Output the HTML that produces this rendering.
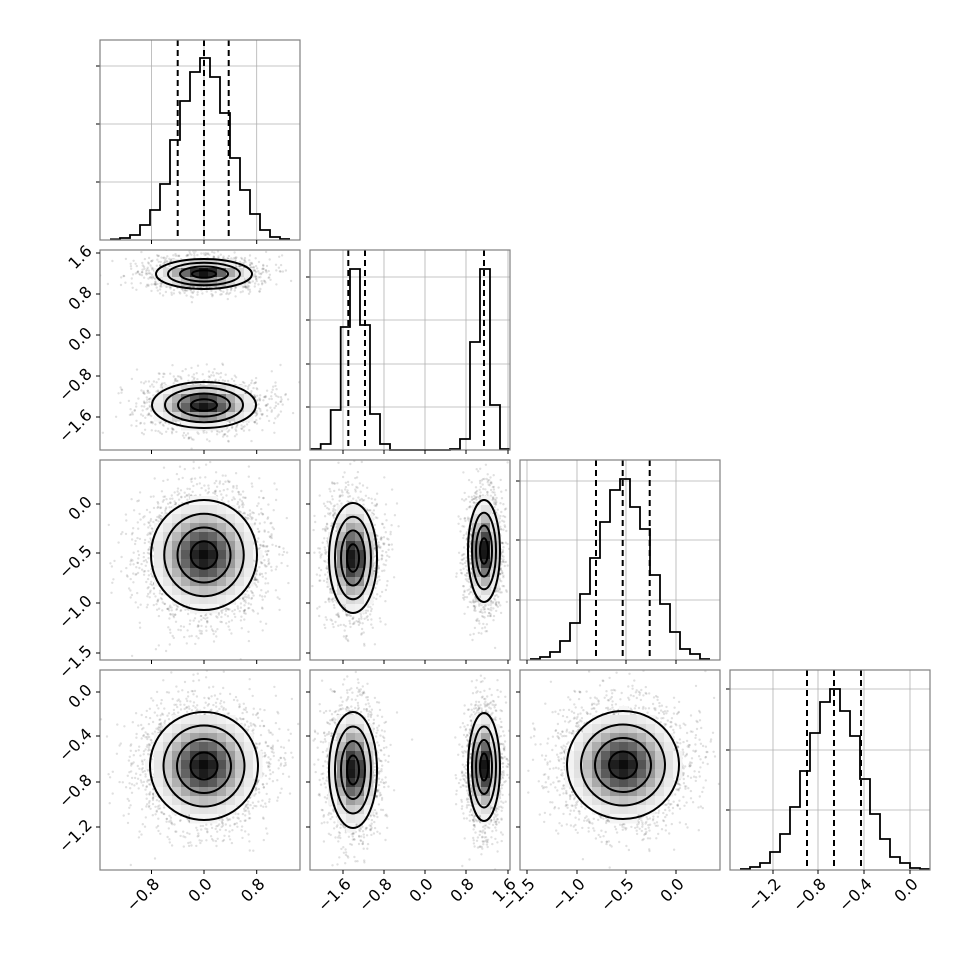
<!DOCTYPE html>
<html><head><meta charset="utf-8"><style>
html,body{margin:0;padding:0;background:#fff;}
svg text{font-family:"DejaVu Sans","Liberation Sans",sans-serif;font-size:16px;fill:#000;}
</style></head><body>
<svg id="s" width="970" height="970" xmlns="http://www.w3.org/2000/svg">
<rect width="970" height="970" fill="#fff"/>
<defs>
<clipPath id="c10"><rect x="100" y="250" width="200" height="200"/></clipPath>
<clipPath id="c20"><rect x="100" y="460" width="200" height="200"/></clipPath>
<clipPath id="c21"><rect x="310" y="460" width="200" height="200"/></clipPath>
<clipPath id="c30"><rect x="100" y="670" width="200" height="200"/></clipPath>
<clipPath id="c31"><rect x="310" y="670" width="200" height="200"/></clipPath>
<clipPath id="c32"><rect x="520" y="670" width="200" height="200"/></clipPath>
</defs>
<g id="g"></g>
</svg>
<script>
var NS="http://www.w3.org/2000/svg",G=document.getElementById('g');
function el(t,a,p){var e=document.createElementNS(NS,t);for(var k in a)e.setAttribute(k,a[k]);(p||G).appendChild(e);return e;}
var seed=12345;function rnd(){seed=(seed*1103515245+12345)%2147483648;return seed/2147483648;}
function gauss(){var u=rnd()||1e-9,v=rnd();return Math.sqrt(-2*Math.log(u))*Math.cos(2*Math.PI*v);}
var XT=[[151.5,204,256.7],[343,384,425,466,508],[527,577,626,676],[773,818,864,910]];
var XL=[["−0.8","0.0","0.8"],["−1.6","−0.8","0.0","0.8","1.6"],["−1.5","−1.0","−0.5","0.0"],["−1.2","−0.8","−0.4","0.0"]];
var YT={1:[253,294,335,376,417],2:[504,553,603,653],3:[692,736,782,827]};
var YL={1:["1.6","0.8","0.0","−0.8","−1.6"],2:["0.0","−0.5","−1.0","−1.5"],3:["0.0","−0.4","−0.8","−1.2"]};
var HYT=[[66,124,182],[277,320,364,407],[481,540,600],[689,750,810]];
function px(c){return 100+210*c;} function py(r){return 40+210*r;}
var blobs={"10":[[204,274,24,7.5],[204,405,26,11.5]],"20":[[204,555,26.5,27.5]],"21":[[353,558,12,27.5],[484,551,8,25.5]],
"30":[[204,766,27,27]],"31":[[353,770,12,29],[484,767,8,27]],"32":[[623,765,28,27]]};
for(var key in blobs){
  var r=+key[0],c=+key[1],x0=px(c),y0=py(r),B=blobs[key];
  var g=el('g',{'clip-path':'url(#c'+key+')'});
  var n=B.length>1?1800:3000;
  B.forEach(function(b){for(var i=0;i<n;i++){var x=b[0]+gauss()*b[2]*1.15,y=b[1]+gauss()*b[3]*1.15;
    el('circle',{cx:x.toFixed(1),cy:y.toFixed(1),r:1.2,fill:'#000','fill-opacity':0.12},g);}});
  var cs=9;
  for(var yy=y0;yy<y0+200;yy+=cs)for(var xx=x0;xx<x0+200;xx+=cs){
    var d=0;B.forEach(function(b){var dx=(xx+cs/2-b[0])/b[2],dy=(yy+cs/2-b[1])/b[3];d=Math.max(d,Math.exp(-0.5*(dx*dx+dy*dy)));});
    if(d>0.13){var v=Math.round(255*(1-Math.pow(d,1.6)*0.95));el('rect',{x:xx,y:yy,width:cs+0.5,height:cs+0.5,fill:'rgb('+v+','+v+','+v+')'},g);}
  }
  B.forEach(function(b){[2,1.5,1,0.5].forEach(function(k){
    el('ellipse',{cx:b[0],cy:b[1],rx:b[2]*k,ry:b[3]*k,fill:'none',stroke:'#000','stroke-width':2},g);});});
}
var H=[
 {e0:110,ys:[239.3,238,235,225,210,184,140,101,72,58,77,113,158,190,214,230,237,239],d:[177.7,204,228.7]},
 {custom:[[310.7,449],[320.7,444],[330.7,410],[340.7,327],[350,269],[360,325],[370,414],[380,444],[390,450],[450,449],[460,439],[470,342],[480,269],[490,405],[500,449],[510,449]],d:[348.3,365,484]},
 {e0:530,ys:[659,657,652,641,623,594,558,522,490,479,507,529,575,604,632,649,654,659],d:[596,622.7,649.7]},
 {e0:740,ys:[869,867,863,852,834,807,771,733,702,689,711,736,779,814,839,857,863,868,869],d:[807,834,861]}];
for(var i=0;i<4;i++){
  var x0=px(i),y0=py(i);
  XT[i].forEach(function(t){el('line',{x1:t,y1:y0,x2:t,y2:y0+200,stroke:'#b0b0b0','stroke-width':0.8});});
  HYT[i].forEach(function(t){el('line',{x1:x0,y1:t,x2:x0+200,y2:t,stroke:'#b0b0b0','stroke-width':0.8});
    el('line',{x1:x0-4,y1:t,x2:x0,y2:t,stroke:'#000','stroke-width':1});});
  var h=H[i],pts=[];
  if(h.custom){var c=h.custom;for(var j=0;j<c.length-1;j++){pts.push(c[j][0]+','+c[j][1]);pts.push(c[j+1][0]+','+c[j][1]);}}
  else{h.ys.forEach(function(y,j){pts.push((h.e0+10*j)+','+y);pts.push((h.e0+10*j+10)+','+y);});}
  el('polyline',{points:pts.join(' '),fill:'none',stroke:'#000','stroke-width':1.8});
  h.d.forEach(function(x){el('line',{x1:x,y1:y0,x2:x,y2:y0+200,stroke:'#000','stroke-width':2,'stroke-dasharray':'6,4'});});
}
for(var r=0;r<4;r++)for(var c=0;c<=r;c++){
  var x0=px(c),y0=py(r);
  el('rect',{x:x0,y:y0,width:200,height:200,fill:'none',stroke:'#808080','stroke-width':1.2});
  XT[c].forEach(function(t){el('line',{x1:t,y1:y0+200,x2:t,y2:y0+204,stroke:'#000','stroke-width':1});});
  if(r>0&&c<r){YT[r].forEach(function(t){el('line',{x1:x0-4,y1:t,x2:x0,y2:t,stroke:'#000','stroke-width':1});});}
}
for(var c=0;c<4;c++)XT[c].forEach(function(t,j){
  var ax=t+5,ay=881;var tx=el('text',{x:ax,y:ay,'text-anchor':'end',dy:'0.35em',transform:'rotate(-45 '+ax+' '+ay+')'});tx.textContent=XL[c][j];});
for(var r=1;r<4;r++)YT[r].forEach(function(t,j){
  var ax=89,ay=t-5;var tx=el('text',{x:ax,y:ay,'text-anchor':'end',dy:'0.35em',transform:'rotate(-45 '+ax+' '+ay+')'});tx.textContent=YL[r][j];});
</script>
</body></html>
